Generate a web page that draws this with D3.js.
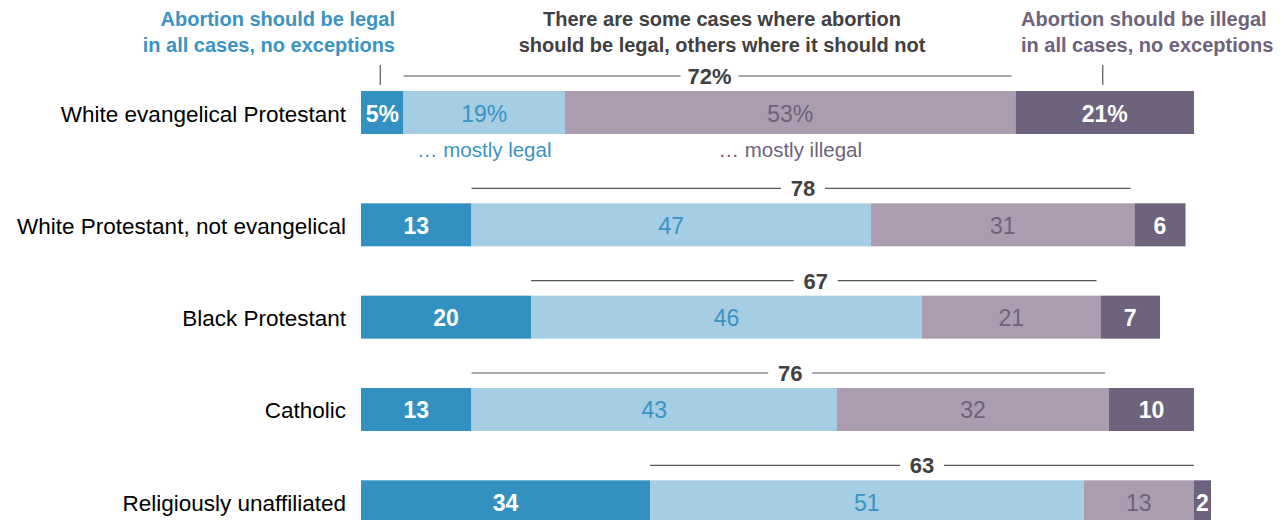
<!DOCTYPE html>
<html>
<head>
<meta charset="utf-8">
<script src="https://cdn.jsdelivr.net/npm/d3@7"></script>
<style>
  body { margin: 0; background: #fff; }
  svg { display: block; font-family: "Liberation Sans", Arial, sans-serif; }
</style>
</head>
<body>
<div id="chart"></div>
<script>
/* DATA */
const groups = [
  "White evangelical Protestant",
  "White Protestant, not evangelical",
  "Black Protestant",
  "Catholic",
  "Religiously unaffiliated"
];
const allLegal = [5, 13, 20, 13, 34];
const mostlyLegal = [19, 47, 46, 43, 51];
const mostlyIllegal = [53, 31, 21, 32, 13];
const allIllegal = [21, 6, 7, 10, 2];
const someCases = [72, 78, 67, 76, 63];

const seriesKeys = ["allLegal", "mostlyLegal", "mostlyIllegal", "allIllegal"];
const fills = ["#3391c1", "#a5cde3", "#ab9daf", "#6e627c"];
const labelColors = ["#ffffff", "#3b93c3", "#6e627c", "#ffffff"];
const labelWeights = ["bold", "normal", "normal", "bold"];

/* SIZES */
const width = 1288;
const height = 520;
const barH = 43;
const step = 92.33;
const firstRowExtra = 20; // room for the "... mostly" notes under first bar

const rows = groups.map((g, i) => ({
  group: g,
  allLegal: allLegal[i],
  mostlyLegal: mostlyLegal[i],
  mostlyIllegal: mostlyIllegal[i],
  allIllegal: allIllegal[i],
  some: someCases[i]
}));

const stacked = d3.stack().keys(seriesKeys)(rows);

/* SCALES */
const xScale = d3.scaleLinear()
  .domain([0, 100])
  .range([361, 1211]);

const padIn = 1 - barH / step;
const yScale = d3.scaleBand()
  .domain(groups)
  .range([91, 91 + step * (groups.length - padIn)])
  .paddingInner(padIn)
  .paddingOuter(0);

const rowY = (g, i) => yScale(g) + (i > 0 ? firstRowExtra : 0);

const svg = d3.select("#chart")
  .append("svg")
  .attr("width", width)
  .attr("height", height);

/* HEADERS */
const headers = [
  { lines: ["Abortion should be legal", "in all cases, no exceptions"], x: 395, anchor: "end", color: "#3b93c3" },
  { lines: ["There are some cases where abortion", "should be legal, others where it should not"], x: 722, anchor: "middle", color: "#414042" },
  { lines: ["Abortion should be illegal", "in all cases, no exceptions"], x: 1021, anchor: "start", color: "#6e627c" }
];

headers.forEach(h => {
  svg.append("text")
    .attr("x", h.x)
    .attr("y", 26)
    .attr("text-anchor", h.anchor)
    .attr("fill", h.color)
    .style("font-size", "20px")
    .style("font-weight", "bold")
    .selectAll("tspan")
    .data(h.lines)
    .join("tspan")
    .attr("x", h.x)
    .attr("dy", (d, i) => i === 0 ? 0 : 26)
    .text(d => d);
});

/* small ticks pointing at the first bar's end segments */
const r0 = rows[0];
const tickAt = [
  xScale(r0.allLegal / 2),
  xScale(r0.allLegal + r0.mostlyLegal + r0.mostlyIllegal + r0.allIllegal / 2)
];
svg.selectAll("line.tick")
  .data(tickAt)
  .join("line")
  .attr("class", "tick")
  .attr("x1", d => d - 2)
  .attr("x2", d => d - 2)
  .attr("y1", 65)
  .attr("y2", 85)
  .attr("stroke", "#555")
  .attr("stroke-width", 1.2);

/* CATEGORY LABELS */
svg.selectAll("text.cat")
  .data(groups)
  .join("text")
  .attr("class", "cat")
  .attr("x", 346)
  .attr("y", (d, i) => rowY(d, i) + barH / 2 + 9)
  .attr("text-anchor", "end")
  .attr("fill", "#000")
  .style("font-size", "22.5px")
  .text(d => d);

/* BARS */
const layer = svg.selectAll("g.layer")
  .data(stacked)
  .join("g")
  .attr("class", "layer")
  .attr("fill", (d, i) => fills[i]);

layer.selectAll("rect")
  .data(d => d)
  .join("rect")
  .attr("x", d => xScale(d[0]))
  .attr("width", d => xScale(d[1]) - xScale(d[0]))
  .attr("y", (d, i) => rowY(d.data.group, i))
  .attr("height", barH);

svg.selectAll("g.vlabels")
  .data(stacked)
  .join("g")
  .attr("class", "vlabels")
  .each(function(s, k) {
    d3.select(this).selectAll("text")
      .data(s)
      .join("text")
      .attr("x", d => xScale((d[0] + d[1]) / 2))
      .attr("y", (d, i) => rowY(d.data.group, i) + barH / 2 + 9)
      .attr("text-anchor", "middle")
      .attr("fill", labelColors[k])
      .style("font-size", "23px")
      .style("font-weight", labelWeights[k])
      .text((d, i) => (d[1] - d[0]) + (i === 0 ? "%" : ""));
  });

/* "some cases" brackets */
const brackets = svg.selectAll("g.bracket")
  .data(rows)
  .join("g")
  .attr("class", "bracket");

brackets.append("line")
  .attr("x1", d => xScale(d.allLegal))
  .attr("x2", (d, i) => xScale(d.allLegal + d.mostlyLegal + d.mostlyIllegal) - (i === 4 ? 0 : 4))
  .attr("y1", (d, i) => rowY(d.group, i) - 15)
  .attr("y2", (d, i) => rowY(d.group, i) - 15)
  .attr("stroke", "#555")
  .attr("stroke-width", 1.2);

brackets.append("rect")
  .attr("x", (d, i) => xScale(d.allLegal + (d.mostlyLegal + d.mostlyIllegal) / 2) - (i === 0 ? 29 : 22))
  .attr("width", (d, i) => i === 0 ? 58 : 44)
  .attr("y", (d, i) => rowY(d.group, i) - 28)
  .attr("height", 25)
  .attr("fill", "#fff");

brackets.append("text")
  .attr("x", d => xScale(d.allLegal + (d.mostlyLegal + d.mostlyIllegal) / 2))
  .attr("y", (d, i) => rowY(d.group, i) - 7)
  .attr("text-anchor", "middle")
  .attr("fill", "#414042")
  .style("font-size", "22px")
  .style("font-weight", "bold")
  .text((d, i) => d.some + (i === 0 ? "%" : ""));

/* notes under first bar */
svg.append("text")
  .attr("x", xScale(r0.allLegal + r0.mostlyLegal / 2))
  .attr("y", rowY(r0.group, 0) + barH + 23)
  .attr("text-anchor", "middle")
  .attr("fill", "#3b93c3")
  .style("font-size", "20.5px")
  .text("\u2026 mostly legal");

svg.append("text")
  .attr("x", xScale(r0.allLegal + r0.mostlyLegal + r0.mostlyIllegal / 2))
  .attr("y", rowY(r0.group, 0) + barH + 23)
  .attr("text-anchor", "middle")
  .attr("fill", "#6e627c")
  .style("font-size", "20.5px")
  .text("\u2026 mostly illegal");
</script>
</body>
</html>
